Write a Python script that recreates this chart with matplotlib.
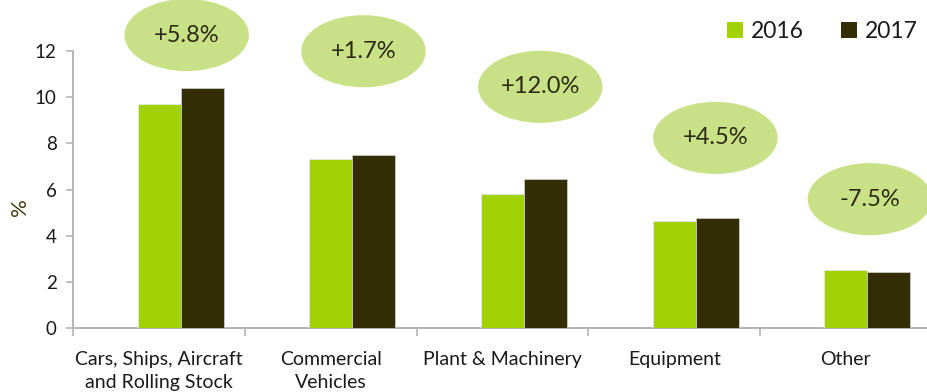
import matplotlib
matplotlib.use("Agg")
import matplotlib.pyplot as plt
from matplotlib.patches import Ellipse, Patch
import numpy as np

plt.rcParams['font.family'] = ['Lato', 'DejaVu Sans']

categories = ["Cars, Ships, Aircraft\nand Rolling Stock", "Commercial\nVehicles",
              "Plant & Machinery", "Equipment", "Other"]
values_2016 = [9.72, 7.31, 5.80, 4.63, 2.54]
values_2017 = [10.41, 7.49, 6.46, 4.76, 2.45]
changes = ["+5.8%", "+1.7%", "+12.0%", "+4.5%", "-7.5%"]
bubble_x = [0.16, 0.19, 0.22, 0.24, 0.14]      # offset from category centre
bubble_y = [12.69, 11.99, 10.45, 8.24, 5.59]
yticks = [0, 2, 4, 6, 8, 10, 12]

c2016 = "#a2d104"
c2017 = "#332e06"
cbubble = "#c8e187"
ctext = "#1a1a1a"

fig = plt.figure(figsize=(9.27, 3.92), dpi=100)
ax = fig.add_axes([0.0791, 0.1625, 0.926, 0.7074])

x = np.arange(len(categories))
w = 0.25
ax.bar(x, values_2016, width=w, color=c2016, edgecolor="#e6e6e6", linewidth=0.6, zorder=3)
ax.bar(x + w, values_2017, width=w, color=c2017, edgecolor="#c8c8c8", linewidth=0.6, zorder=3)

ax.set_xlim(-0.5, len(categories) - 0.5)
ax.set_ylim(0, 12)
ax.set_yticks(yticks)
ax.set_xticks(x)
ax.set_xticklabels(categories, fontsize=14, color=ctext, linespacing=1.45)
ax.set_xticks(np.arange(-0.5, len(categories)), minor=True)
ax.tick_params(axis="x", which="major", length=0, pad=16)
ax.tick_params(axis="x", which="minor", length=6, width=1.2, color="#b4b4b4", direction="out")
ax.tick_params(axis="y", length=5, width=1.2, color="#b4b4b4", direction="out",
               labelsize=13.5, labelcolor=ctext, pad=7)
for s in ["top", "right"]:
    ax.spines[s].set_visible(False)
for s in ["left", "bottom"]:
    ax.spines[s].set_color("#b4b4b4")
    ax.spines[s].set_linewidth(1.4)

ax.set_ylabel("%", fontsize=16, color="#3d3a0e")
ax.yaxis.set_label_coords(-0.051, 0.436)

for i, (lab, dx, by) in enumerate(zip(changes, bubble_x, bubble_y)):
    e = Ellipse((x[i] + dx, by), width=0.725, height=3.12, facecolor=cbubble,
                edgecolor="none", clip_on=False, zorder=4)
    ax.add_patch(e)
    ax.text(x[i] + dx, by, lab, ha="center", va="center", fontsize=17,
            color="#2b2a10", zorder=5, clip_on=False)

handles = [Patch(facecolor=c2016, label="2016"), Patch(facecolor=c2017, label="2017")]
fig.legend(handles=handles, loc="upper left", bbox_to_anchor=(0.762, 1.0), ncol=2,
           frameon=False, fontsize=16.5, handlelength=0.7, handleheight=0.7,
           handletextpad=0.35, columnspacing=1.6, labelcolor=ctext)

fig.savefig("out.png", dpi=100)
